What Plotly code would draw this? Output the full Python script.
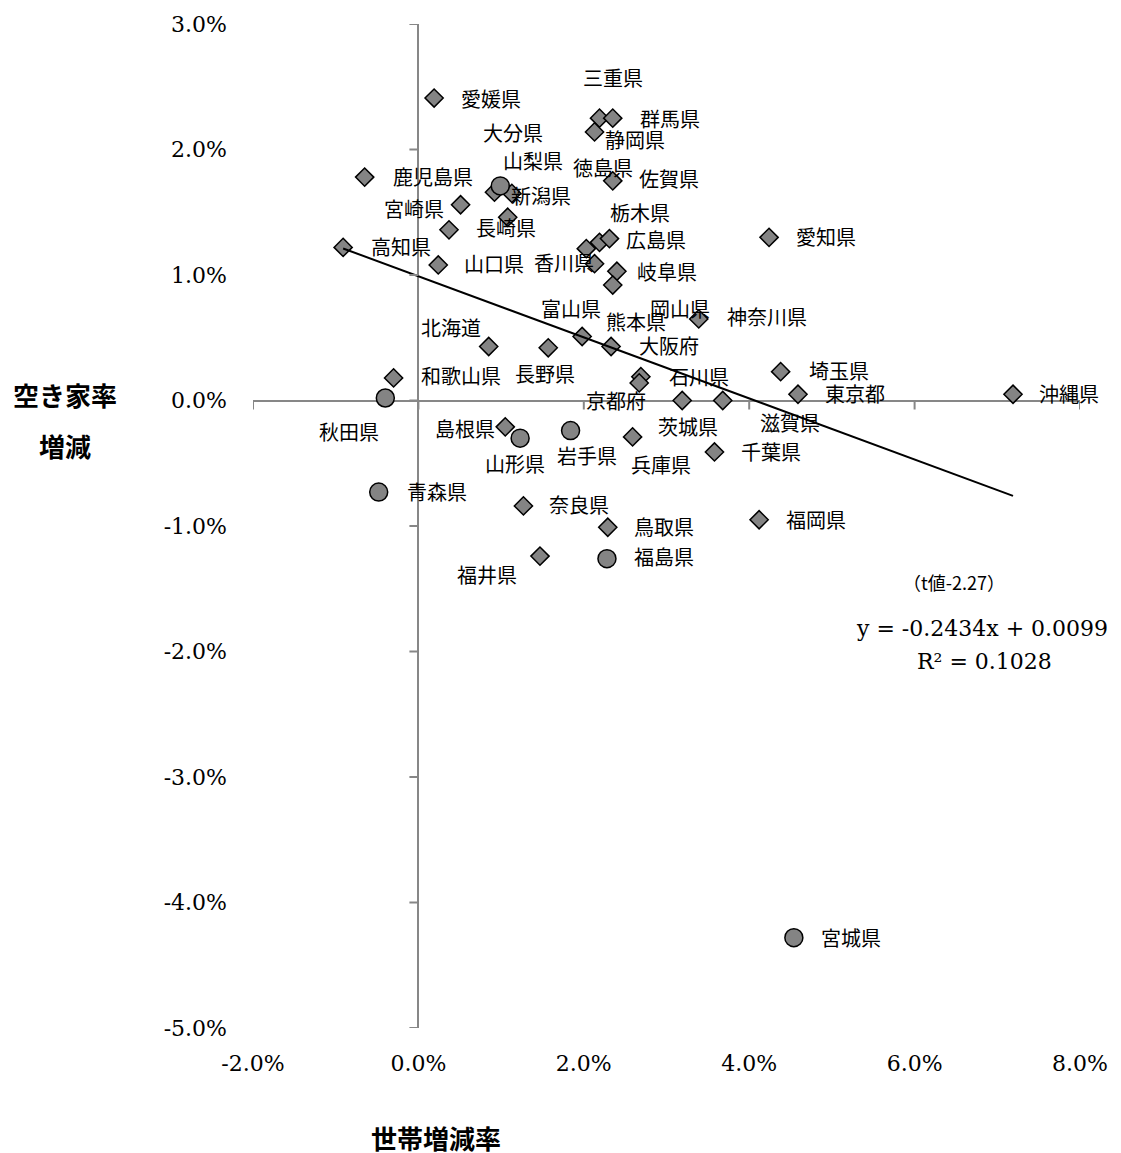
import plotly.graph_objects as go

# 世帯増減率 (x) と 空き家率増減 (y)、いずれも比率
# ◇ 系列
pref_d = ["愛媛県", "三重県", "群馬県", "静岡県", "鹿児島県", "大分県", "山梨県", "佐賀県",
          "徳島県", "宮崎県", "長崎県", "栃木県", "広島県", "岡山県", "香川県", "岐阜県",
          "熊本県", "高知県", "山口県", "愛知県", "神奈川県", "富山県", "北海道", "大阪府",
          "長野県", "和歌山県", "埼玉県", "石川県", "京都府", "東京都", "沖縄県", "茨城県",
          "滋賀県", "島根県", "兵庫県", "千葉県", "奈良県", "鳥取県", "福井県", "福岡県"]
hh_d = [0.0019, 0.0219, 0.0235, 0.0213, -0.0065, 0.0092, 0.0113, 0.0235,
        0.0108, 0.0051, 0.0037, 0.0219, 0.0231, 0.0203, 0.0213, 0.0240,
        0.0235, -0.0091, 0.0024, 0.0424, 0.0339, 0.0198, 0.0085, 0.0233,
        0.0157, -0.0030, 0.0438, 0.0269, 0.0267, 0.0459, 0.0719, 0.0319,
        0.0368, 0.0105, 0.0259, 0.0358, 0.0127, 0.0229, 0.0147, 0.0412]
vac_d = [0.0241, 0.0225, 0.0225, 0.0214, 0.0178, 0.0166, 0.0165, 0.0175,
         0.0146, 0.0156, 0.0136, 0.0126, 0.0129, 0.0121, 0.0109, 0.0103,
         0.0092, 0.0122, 0.0108, 0.0130, 0.0065, 0.0051, 0.0043, 0.0043,
         0.0042, 0.0018, 0.0023, 0.0019, 0.0014, 0.0005, 0.0005, -0.0000,
         0.0000, -0.0021, -0.0029, -0.0041, -0.0084, -0.0101, -0.0124, -0.0095]

# ○ 系列
pref_c = ["新潟県", "秋田県", "山形県", "岩手県", "青森県", "福島県", "宮城県"]
hh_c = [0.0099, -0.0040, 0.0123, 0.0184, -0.0048, 0.0228, 0.0454]
vac_c = [0.0171, 0.0002, -0.0030, -0.0024, -0.0073, -0.0126, -0.0428]

# 回帰式 y = -0.2434x + 0.0099
slope = -0.2434
intercept = 0.0099
t_text = "（t値-2.27）"
eq_text = "y = -0.2434x + 0.0099"
r2_text = "R² = 0.1028"

x_ticks = [-0.02, 0.0, 0.02, 0.04, 0.06, 0.08]
x_ticktext = ["-2.0%", "0.0%", "2.0%", "4.0%", "6.0%", "8.0%"]
y_ticks = [0.03, 0.02, 0.01, 0.0, -0.01, -0.02, -0.03, -0.04, -0.05]
y_ticktext = ["3.0%", "2.0%", "1.0%", "0.0%", "-1.0%", "-2.0%", "-3.0%", "-4.0%", "-5.0%"]

# ラベルの点からのずらし量 (px, 右・下が正)
label_offset = {
    "愛媛県": (57, 0), "三重県": (13, -41), "群馬県": (57, 0), "静岡県": (40, 8),
    "鹿児島県": (68, -1), "大分県": (19, -60), "山梨県": (21, -33), "新潟県": (41, 10),
    "佐賀県": (56, -2), "徳島県": (95, -50), "宮崎県": (-47, 4), "長崎県": (57, -2),
    "栃木県": (40, -30), "広島県": (47, 1), "岡山県": (94, 60), "香川県": (-31, -1),
    "岐阜県": (50, 0), "熊本県": (23, 36), "高知県": (58, -1), "山口県": (56, -1),
    "愛知県": (57, -1), "神奈川県": (68, -2), "富山県": (-11, -28), "北海道": (-38, -19),
    "大阪府": (58, -1), "長野県": (-3, 26), "和歌山県": (67, -2), "埼玉県": (58, -1),
    "石川県": (58, 0), "京都府": (-23, 18), "東京都": (57, -1), "沖縄県": (56, -1),
    "秋田県": (-36, 34), "茨城県": (6, 26), "滋賀県": (67, 22), "島根県": (-40, 2),
    "山形県": (-5, 25), "岩手県": (16, 25), "兵庫県": (28, 28), "千葉県": (57, 0),
    "青森県": (58, -1), "奈良県": (56, -1), "鳥取県": (56, -1), "福島県": (57, -2),
    "福井県": (-53, 18), "福岡県": (57, 0), "宮城県": (57, 0),
}

JP = "Noto Sans CJK JP"
SERIF = "DejaVu Serif"
AXIS_GRAY = "#878787"
MARK_GRAY = "#848484"

fig = go.Figure()

fig.add_trace(go.Scatter(
    x=hh_d, y=vac_d, mode="markers", text=pref_d, showlegend=False,
    marker=dict(symbol="diamond", size=14, color=MARK_GRAY,
                line=dict(color="black", width=1.5)),
))
fig.add_trace(go.Scatter(
    x=hh_c, y=vac_c, mode="markers", text=pref_c, showlegend=False,
    marker=dict(symbol="circle", size=18, color=MARK_GRAY,
                line=dict(color="black", width=1.5)),
))

# 近似直線（全データの x 範囲）
all_x = hh_d + hh_c
x_lo, x_hi = min(all_x), max(all_x)
fig.add_trace(go.Scatter(
    x=[x_lo, x_hi], y=[slope * x_lo + intercept, slope * x_hi + intercept],
    mode="lines", line=dict(color="black", width=2), showlegend=False,
))

annotations = []
for names, xs, ys in ((pref_d, hh_d, vac_d), (pref_c, hh_c, vac_c)):
    for name, xv, yv in zip(names, xs, ys):
        dx, dy = label_offset[name]
        annotations.append(dict(
            x=xv, y=yv, xref="x", yref="y", text=name, showarrow=False,
            xshift=dx, yshift=-dy, xanchor="center", yanchor="middle",
            font=dict(family=JP, size=20, color="black"),
        ))


def paper_text(x, y, text, family, size):
    return dict(x=x, y=y, xref="paper", yref="paper", text=text, showarrow=False,
                xanchor="center", yanchor="middle",
                font=dict(family=family, size=size, color="black"))


annotations += [
    paper_text(0.8476, 0.4444, t_text, JP, 18),
    paper_text(0.8815, 0.3978, eq_text, SERIF, 22),
    paper_text(0.8851, 0.3651, r2_text, SERIF, 22),
    paper_text(-0.2273, 0.631, "<b>空き家率</b>", JP, 26),
    paper_text(-0.2273, 0.5804, "<b>増減</b>", JP, 26),
    paper_text(0.2213, -0.1091, "<b>世帯増減率</b>", JP, 26),
]

# 交差軸上の目盛り線
shapes = []
for xv in x_ticks:
    shapes.append(dict(type="line", xref="x", yref="y", x0=xv, x1=xv,
                       ysizemode="pixel", yanchor=0, y0=0, y1=-9,
                       line=dict(color=AXIS_GRAY, width=2)))
for yv in y_ticks:
    shapes.append(dict(type="line", xref="x", yref="y", y0=yv, y1=yv,
                       xsizemode="pixel", xanchor=0, x0=0, x1=-9,
                       line=dict(color=AXIS_GRAY, width=2)))

fig.update_layout(
    width=1121, height=1153,
    margin=dict(l=253, r=41, t=20, b=125),
    paper_bgcolor="white", plot_bgcolor="white",
    annotations=annotations, shapes=shapes,
    xaxis=dict(range=[-0.02, 0.08], tickvals=x_ticks, ticktext=x_ticktext,
               showgrid=False, showline=False, ticks="",
               zeroline=True, zerolinecolor=AXIS_GRAY, zerolinewidth=2,
               ticklabelstandoff=20,
               tickfont=dict(family=SERIF, size=22, color="black")),
    yaxis=dict(range=[-0.05, 0.03], tickvals=y_ticks, ticktext=y_ticktext,
               showgrid=False, showline=False, ticks="",
               zeroline=True, zerolinecolor=AXIS_GRAY, zerolinewidth=2,
               ticklabelstandoff=25,
               tickfont=dict(family=SERIF, size=22, color="black")),
)

fig.write_html("out.html")
